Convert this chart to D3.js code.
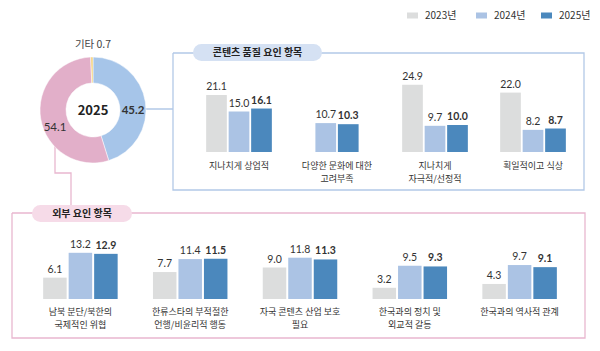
<!DOCTYPE html>
<html>
<head>
<meta charset="utf-8">
<script src="https://cdn.jsdelivr.net/npm/d3@7"></script>
<style>
  body { margin: 0; background: #fff; }
  svg { display: block; font-family: "Noto Sans CJK KR", "Noto Sans", sans-serif; }
  .val { font-family: "Lato", "Noto Sans", sans-serif; font-size: 10.5px; fill: #333; }
  .cat { font-size: 9px; fill: #333; }
</style>
</head>
<body>
<div id="chart"></div>
<script>
// legend / series
var years = ["2023년", "2024년", "2025년"];
var yearColors = ["#dcdddd", "#abc3e4", "#4b88bd"];

// donut (2025)
var donutLabels = ["콘텐츠 품질", "외부 요인", "기타"];
var donutValues = [45.2, 54.1, 0.7];
var donutColors = ["#a6c5e9", "#e2afc9", "#f3d27f"];

// 콘텐츠 품질 요인 항목
var qualityCats = [["지나치게 상업적"], ["다양한 문화에 대한", "고려부족"], ["지나치게", "자극적/선정적"], ["획일적이고 식상"]];
var quality2023 = [21.1, null, 24.9, 22.0];
var quality2024 = [15.0, 10.7, 9.7, 8.2];
var quality2025 = [16.1, 10.3, 10.0, 8.7];

// 외부 요인 항목
var externalCats = [["남북 분단/북한의", "국제적인 위협"], ["한류스타의 부적절한", "언행/비윤리적 행동"], ["자국 콘텐츠 산업 보호", "필요"], ["한국과의 정치 및", "외교적 갈등"], ["한국과의 역사적 관계"]];
var external2023 = [6.1, 7.7, 9.0, 3.2, 4.3];
var external2024 = [13.2, 11.4, 11.8, 9.5, 9.7];
var external2025 = [12.9, 11.5, 11.3, 9.3, 9.1];

var width = 600, height = 351;
var svg = d3.select("#chart").append("svg")
    .attr("width", width)
    .attr("height", height);

// legend
var legend = svg.append("g").selectAll("g")
    .data(years).enter().append("g")
    .attr("transform", function(d, i) { return "translate(" + [407, 476, 541][i] + ",0)"; });
legend.append("rect")
    .attr("x", 0).attr("y", 12.5).attr("width", 11).attr("height", 6)
    .attr("fill", function(d, i) { return yearColors[i]; });
legend.append("text")
    .attr("x", 18).attr("y", 19)
    .attr("font-size", 10).attr("fill", "#333")
    .text(function(d) { return d; });

// boxes + connectors
var blueLine = "#b3c9e7", pinkLine = "#e9b7cf";
svg.append("path")
    .attr("d", "M145,109H173 M173,53V190H584V53H173")
    .attr("fill", "none").attr("stroke", blueLine).attr("stroke-width", 1.3);
svg.append("path")
    .attr("d", "M55,136V173H71V213 M12,213V338H585V213H12")
    .attr("fill", "none").attr("stroke", pinkLine).attr("stroke-width", 1.3);

function pill(x, y, w, h, fill, label) {
    svg.append("rect")
        .attr("x", x).attr("y", y).attr("width", w).attr("height", h)
        .attr("rx", h / 2).attr("fill", fill);
    svg.append("text")
        .attr("x", x + w / 2).attr("y", y + h / 2 + 3.5)
        .attr("text-anchor", "middle")
        .attr("font-size", 10).attr("font-weight", "bold").attr("fill", "#222")
        .text(label);
}
pill(193, 44, 129, 17, "#d5e1f3", "콘텐츠 품질 요인 항목");
pill(32, 205, 100, 17, "#f6dbe8", "외부 요인 항목");

// donut
var cx = 93, cy = 110;
var pie = d3.pie().sort(null).value(function(d) { return d; });
var arc = d3.arc().innerRadius(27).outerRadius(53);
var donut = svg.append("g").attr("transform", "translate(" + cx + "," + cy + ")");
donut.selectAll("path")
    .data(pie(donutValues)).enter().append("path")
    .attr("d", arc)
    .attr("fill", function(d, i) { return donutColors[i]; })
    .attr("stroke", "#fff").attr("stroke-width", 0.5);
donut.append("text")
    .attr("y", 5).attr("text-anchor", "middle")
    .attr("font-size", 13).attr("font-weight", "bold").attr("fill", "#222")
    .text("2025");
donut.append("text")
    .attr("x", 40).attr("y", 4).attr("text-anchor", "middle")
    .attr("class", "val").attr("font-weight", "bold").style("font-size", "11.5px")
    .text(d3.format(".1f")(donutValues[0]));
donut.append("text")
    .attr("x", -38).attr("y", 21).attr("text-anchor", "middle")
    .attr("class", "val").style("font-size", "11.5px")
    .text(d3.format(".1f")(donutValues[1]));
svg.append("text")
    .attr("x", cx).attr("y", 48).attr("text-anchor", "middle")
    .attr("font-size", 10.5).attr("fill", "#444")
    .text(donutLabels[2] + " " + d3.format(".1f")(donutValues[2]));

// grouped bars
function groupedBars(cats, series, opt) {
    var x = d3.scaleBand().domain(d3.range(cats.length)).range(opt.xRange);
    var y = d3.scaleLinear().domain([0, opt.yMax]).range([opt.base, opt.base - opt.yMax * opt.pxPerUnit]);
    var g = svg.append("g");

    cats.forEach(function(cat, i) {
        var present = [0, 1, 2].filter(function(s) { return series[s][i] != null; });
        var center = x(i) + x.bandwidth() / 2;
        var inner = d3.scaleBand().domain(present)
            .range([center - present.length * opt.step / 2, center + present.length * opt.step / 2])
            .paddingInner(opt.gap / opt.step).paddingOuter(opt.gap / opt.step / 2);

        present.forEach(function(s) {
            var v = series[s][i];
            g.append("rect")
                .attr("x", inner(s)).attr("y", y(v))
                .attr("width", inner.bandwidth()).attr("height", opt.base - y(v))
                .attr("fill", yearColors[s]);
            g.append("text")
                .attr("class", "val")
                .attr("x", inner(s) + inner.bandwidth() / 2).attr("y", y(v) - 5)
                .attr("text-anchor", "middle")
                .attr("font-weight", s === 2 ? "bold" : "normal")
                .text(d3.format(".1f")(v));
        });

        // one text per line keeps wrapped labels apart
        cat.forEach(function(line, k) {
            g.append("text")
                .attr("class", "cat")
                .attr("text-anchor", "middle")
                .attr("x", center).attr("y", opt.base + opt.labelGap + k * 13.2)
                .text(line);
        });
    });
}

groupedBars(qualityCats, [quality2023, quality2024, quality2025], {
    xRange: [190, 582], base: 152, yMax: 25, pxPerUnit: 2.7,
    step: 22.5, gap: 1.8, labelGap: 17
});
groupedBars(externalCats, [external2023, external2024, external2025], {
    xRange: [25.5, 574.5], base: 299, yMax: 14, pxPerUnit: 3.5,
    step: 25.5, gap: 2, labelGap: 16
});
</script>
</body>
</html>
